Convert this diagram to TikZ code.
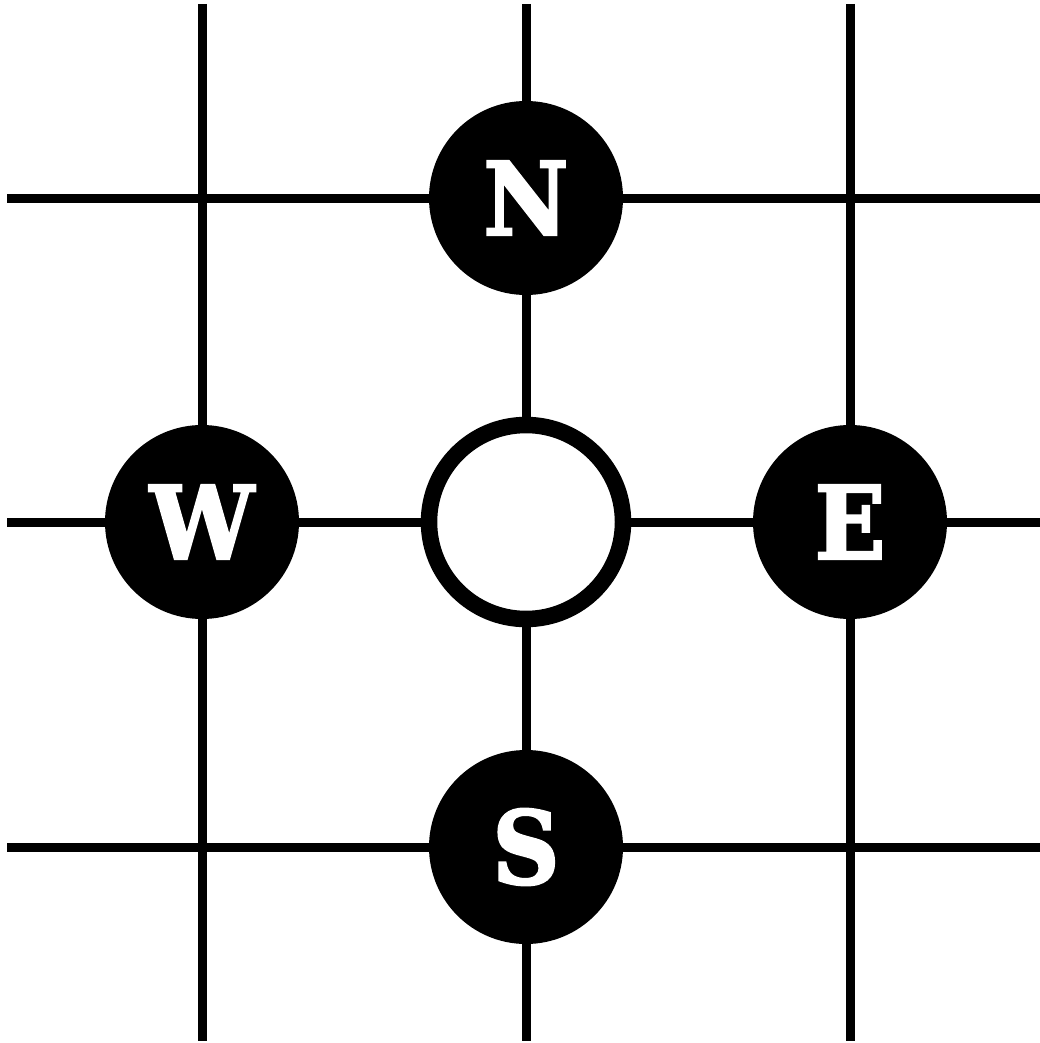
\documentclass[tikz,border=0pt]{standalone}
\usepackage{fontspec}
\newfontfamily\letterfont{DejaVu Serif}[BoldFeatures={FakeBold=2.5}]
\newcommand\lett[1]{\scalebox{0.92}[1]{#1}}
\begin{document}
\begin{tikzpicture}[x=1pt,y=-1pt,
  gridline/.style={line width=9pt},
  dot/.style={circle,fill=black,inner sep=0pt,minimum size=194pt,text=white,
    font=\fontsize{101}{101}\selectfont\letterfont\bfseries},
  hole/.style={circle,fill=white,draw=black,line width=16.5pt,inner sep=0pt,minimum size=194pt}]
\useasboundingbox (0,0) rectangle (1040,1043);
% grid end points
\foreach \x/\n in {202/a,526/b,850/c}{
  \coordinate (t\n) at (\x,4);
  \coordinate (b\n) at (\x,1041);
}
\foreach \y/\n in {198/a,522/b,847/c}{
  \coordinate (l\n) at (7,\y);
  \coordinate (r\n) at (1040,\y);
}
\foreach \n in {a,b,c}{
  \draw[gridline] (t\n) -- (b\n);
  \draw[gridline] (l\n) -- (r\n);
}
\node[dot] (N) at (526,198) {\lett{N}};
\node[dot] (W) at (202,522) {\lett{W}};
\node[dot] (E) at (850,522) {\lett{E}};
\node[dot] (S) at (526,847) {\lett{S}};
\node[hole] (C) at (526,522) {};
\end{tikzpicture}
\end{document}
